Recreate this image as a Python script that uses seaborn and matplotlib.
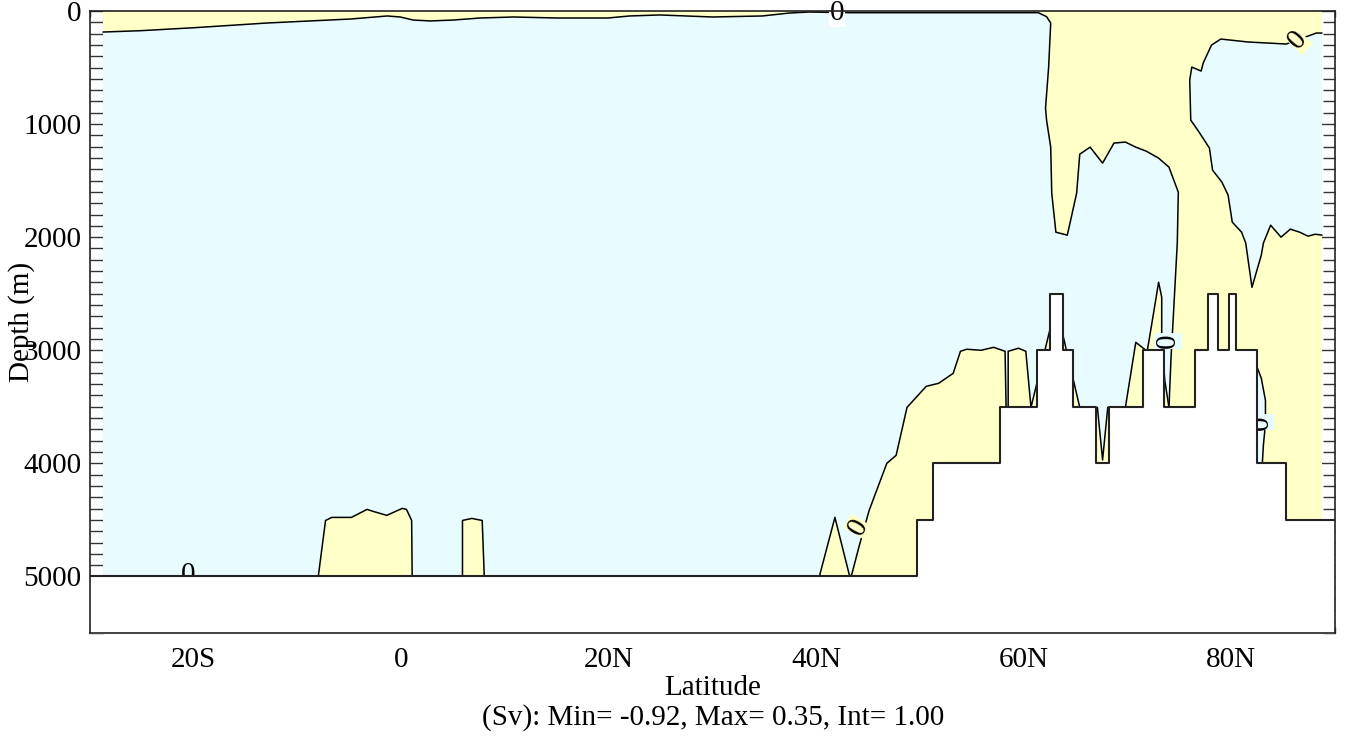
import numpy as np
import pandas as pd
import matplotlib
matplotlib.use('Agg')
import matplotlib.pyplot as plt
import seaborn as sns

# extent of the model grid (latitude, depth in m)
lat_min, lat_max = -28.75, 88.75
depth_max = 5500

# zero contour: surface band -> 62N tongue -> Nordic pocket
c1_lat = [-28.75, -25.1, -20.0, -12.9, -4.9, -1.35, -0.1, 1.15, 2.8, 5.0, 7.6, 10.8,
          15.0, 19.9, 22.0, 24.9, 30.0, 34.8, 37.4, 39.3, 43.2, 48.0, 61.4, 62.2,
          62.6, 62.4, 62.1, 62.2, 62.6, 62.7, 63.1, 64.2, 65.1, 65.4, 66.4, 67.6,
          68.7, 69.8, 70.8, 71.8, 73.0, 74.0, 74.9, 74.8, 74.4, 74.2, 74.0]
c1_depth = [186, 174, 148, 106, 71, 44, 53, 80, 88, 80, 62, 53,
            62, 62, 44, 35, 53, 44, 18, 9, 15, 15, 15, 50,
            106, 496, 858, 965, 1204, 1611, 1956, 1982, 1611, 1266, 1204, 1345,
            1168, 1159, 1204, 1239, 1301, 1381, 1602, 2053, 2735, 3062, 3505]

# positive cell on the slope 40N-65N
a_lat = [40.3, 41.8, 43.2, 43.4, 44.1, 45.1, 46.8, 47.7, 48.75, 50.6, 51.8, 53.2,
         53.9, 54.5, 55.9, 57.1, 58.2, 58.3, 58.5, 58.5, 59.5, 60.2, 60.7, 63.1, 65.4]
a_depth = [5000, 4478, 4991, 4991, 4744, 4416, 4000, 3929, 3505, 3319, 3292, 3204,
           3009, 2991, 3000, 2974, 3009, 3505, 3505, 3009, 2982, 3009, 3505, 2600, 3505]

# small positive cells near the equator
b1_lat = [-8.0, -7.3, -6.7, -4.8, -3.3, -2.7, -1.4, 0.1, 0.5, 1.0, 1.05]
b1_depth = [5000, 4505, 4478, 4478, 4407, 4425, 4460, 4398, 4407, 4505, 5000]
b2_lat = [5.9, 5.9, 6.8, 7.8, 8.0]
b2_depth = [5000, 4505, 4487, 4505, 5000]

# positive patches inside the Nordic pocket
v_lat = [67.1, 67.6, 68.1]
v_depth = [3505, 3970, 3505]
p2_lat = [69.8, 70.8, 71.9, 72.4, 73.0, 73.3, 73.3, 73.6, 74.0]
p2_depth = [3505, 2930, 3009, 2735, 2399, 2531, 2920, 3270, 3505]

# negative cell in the Arctic
c2_lat = [88.75, 88.2, 85.3, 81.6, 79.0, 78.1, 77.3, 77.1, 76.2, 76.0, 76.1, 76.9,
          77.9, 78.2, 79.1, 79.7, 80.1, 81.0, 81.4, 82.0, 82.9, 83.1, 83.8, 84.8,
          85.7, 86.6, 87.4, 88.1, 88.75]
c2_depth = [195, 195, 292, 274, 248, 301, 460, 531, 496, 611, 965, 1071,
            1212, 1407, 1513, 1628, 1867, 1956, 2053, 2443, 2159, 2053, 1894, 2000,
            1929, 1956, 1991, 1974, 1982]

# negative sliver against the 82N wall
c3_lat = [82.5, 82.9, 83.3, 83.3, 83.1, 83.0]
c3_depth = [3150, 3248, 3443, 3650, 3841, 4000]

# bottom topography (step)
topo_lat = [-30, 49.75, 51.25, 57.75, 61.25, 62.5, 63.75, 64.75, 67.0, 68.25, 71.5,
            73.5, 76.5, 77.75, 78.75, 79.75, 80.5, 82.5, 85.25, 90]
topo_depth = [5000, 4500, 4000, 3500, 3000, 2500, 3000, 3500, 4000, 3500, 3000,
              3500, 3000, 2500, 3000, 2500, 3000, 4000, 4500, 4500]

# contour labels
lab_lat = [42.0, -20.5, 44.1, 73.9, 82.85, 86.4]
lab_depth = [18, 4985, 4567, 2920, 3637, 257]

pos_col = '#ffffc8'
neg_col = '#e8fcff'

sns.set_theme(style='ticks')
plt.rcParams['font.family'] = ['Liberation Serif', 'DejaVu Serif']
plt.rcParams['font.size'] = 21
plt.rcParams['text.color'] = 'black'
plt.rcParams['xtick.color'] = 'black'
plt.rcParams['ytick.color'] = 'black'

fig = plt.figure(figsize=(13.46, 7.38), dpi=100)
ax = fig.add_axes([0.0669, 0.1423, 0.9249, 0.8428])

# background: negative everywhere
ax.fill([lat_min, lat_max, lat_max, lat_min], [0, 0, depth_max, depth_max],
        color=neg_col, lw=0, zorder=1)

# positive regions
ax.fill(c1_lat + [c1_lat[-1], lat_max, lat_max, lat_min],
        c1_depth + [depth_max, depth_max, 0, 0], color=pos_col, lw=0, zorder=2)
ax.fill(a_lat + [a_lat[-1], a_lat[0]], a_depth + [depth_max, depth_max],
        color=pos_col, lw=0, zorder=2)
for bl, bd in [(b1_lat, b1_depth), (b2_lat, b2_depth)]:
    ax.fill(bl, bd, color=pos_col, lw=0, zorder=2)
ax.fill(v_lat + [68.3, 68.3, 66.9, 66.9], v_depth + [3505, 4600, 4600, 3505],
        color=pos_col, lw=0, zorder=2)
ax.fill(p2_lat + [p2_lat[-1], p2_lat[0]], p2_depth + [depth_max, depth_max],
        color=pos_col, lw=0, zorder=2)

# negative pockets inside the positive area
ax.fill(c2_lat, c2_depth, color=neg_col, lw=0, zorder=3)
ax.fill(c3_lat + [82.4, 82.4], c3_depth + [c3_depth[-1], c3_depth[0]],
        color=neg_col, lw=0, zorder=3)

# zero contour lines
for cl, cd in [(c1_lat, c1_depth), (a_lat, a_depth), (b1_lat, b1_depth),
               (b2_lat, b2_depth), (v_lat, v_depth), (p2_lat, p2_depth),
               (c2_lat, c2_depth), (c3_lat, c3_depth)]:
    sns.lineplot(x=cl, y=cd, sort=False, estimator=None, color='black',
                 lw=1.1, ax=ax, zorder=4)

# topography
ax.fill_between(topo_lat, topo_depth, depth_max + 100, step='post',
                color='white', lw=0, zorder=5)
ax.step(topo_lat, topo_depth, where='post', color='#222222', lw=1.5, zorder=6)

# contour labels (those touching the bottom sit under the topography)
rots = [0, 0, 60, 90, 90, 48]
bgs = ['white', neg_col, pos_col, neg_col, neg_col, pos_col]
zs = [7, 4.5, 7, 7, 4.5, 7]
for i in range(len(lab_lat)):
    ax.text(lab_lat[i], lab_depth[i], '0', rotation=rots[i], ha='center',
            va='center', fontsize=21, zorder=zs[i],
            bbox=dict(boxstyle='square,pad=0.02', fc=bgs[i], ec='none'))

ax.set_xlim(-30, 90)
ax.set_ylim(depth_max, 0)
ax.set_xticks([-20, 0, 20, 40, 60, 80])
ax.set_xticklabels(['20S', '0', '20N', '40N', '60N', '80N'])
ax.set_xticks(np.arange(-30, 91, 5), minor=True)
ax.set_yticks(np.arange(0, 5001, 1000))
ax.set_yticks(np.arange(0, 5501, 100), minor=True)
ax.tick_params(axis='both', which='both', direction='in', top=True, right=True,
               color='#333333', width=1.0, labelsize=21)
ax.tick_params(axis='x', which='major', length=8.6, pad=10)
ax.tick_params(axis='x', which='minor', length=4.3)
ax.tick_params(axis='y', which='major', length=18, pad=6)
ax.tick_params(axis='y', which='minor', length=9)
for s in ax.spines.values():
    s.set_linewidth(1.2)
    s.set_color('#222222')
    s.set_zorder(8)
ax.set_xlabel('')
ax.set_ylabel('')

fig.text(22 / 1346, 1 - 322 / 738, 'Depth (m)', rotation=90, ha='center',
         va='center', fontsize=21)
fig.text(0.5297, 0.0583, 'Latitude', ha='center', va='baseline', fontsize=21)
fig.text(0.5297, 0.0176, '(Sv): Min= -0.92, Max= 0.35, Int= 1.00', ha='center',
         va='baseline', fontsize=21)

fig.savefig('out.png', dpi=100)
